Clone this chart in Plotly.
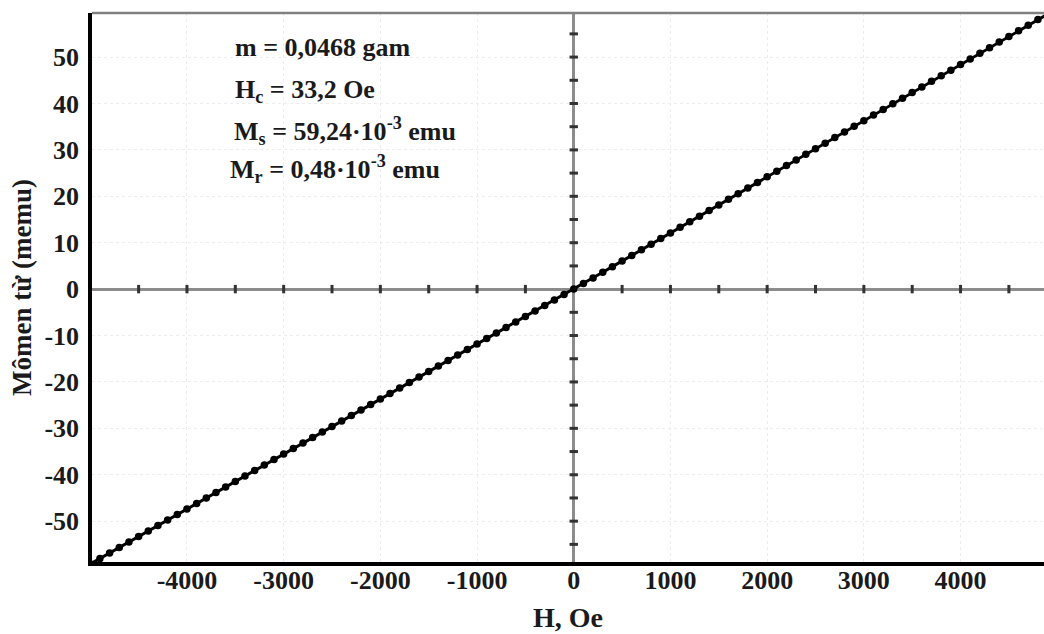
import plotly.graph_objects as go

# Field H (Oe) and magnetic moment M (memu)
H = [-5000, -4900, -4800, -4700, -4600, -4500, -4400, -4300, -4200, -4100,
     -4000, -3900, -3800, -3700, -3600, -3500, -3400, -3300, -3200, -3100,
     -3000, -2900, -2800, -2700, -2600, -2500, -2400, -2300, -2200, -2100,
     -2000, -1900, -1800, -1700, -1600, -1500, -1400, -1300, -1200, -1100,
     -1000, -900, -800, -700, -600, -500, -400, -300, -200, -100,
     0, 100, 200, 300, 400, 500, 600, 700, 800, 900,
     1000, 1100, 1200, 1300, 1400, 1500, 1600, 1700, 1800, 1900,
     2000, 2100, 2200, 2300, 2400, 2500, 2600, 2700, 2800, 2900,
     3000, 3100, 3200, 3300, 3400, 3500, 3600, 3700, 3800, 3900,
     4000, 4100, 4200, 4300, 4400, 4500, 4600, 4700, 4800, 4900]
M = [-59.24, -58.06, -56.87, -55.69, -54.50, -53.32, -52.13, -50.95, -49.76, -48.58,
     -47.39, -46.21, -45.02, -43.84, -42.65, -41.47, -40.28, -39.10, -37.91, -36.73,
     -35.54, -34.36, -33.17, -31.99, -30.80, -29.62, -28.44, -27.25, -26.07, -24.88,
     -23.70, -22.51, -21.33, -20.14, -18.96, -17.77, -16.59, -15.40, -14.22, -13.03,
     -11.85, -10.66, -9.48, -8.29, -7.11, -5.92, -4.74, -3.55, -2.37, -1.18,
     0.00, 1.21, 2.42, 3.63, 4.84, 6.05, 7.26, 8.47, 9.68, 10.89,
     12.10, 13.31, 14.52, 15.73, 16.94, 18.15, 19.36, 20.57, 21.78, 22.99,
     24.20, 25.41, 26.62, 27.83, 29.04, 30.25, 31.46, 32.67, 33.88, 35.09,
     36.30, 37.51, 38.72, 39.93, 41.14, 42.35, 43.56, 44.77, 45.98, 47.19,
     48.40, 49.61, 50.82, 52.03, 53.24, 54.45, 55.66, 56.87, 58.08, 59.24]

x_ticks = [-4000, -3000, -2000, -1000, 0, 1000, 2000, 3000, 4000]
y_ticks = [-50, -40, -30, -20, -10, 0, 10, 20, 30, 40, 50]
# small tick marks drawn on the zero lines
x_marks = [-4500, -4000, -3500, -3000, -2500, -2000, -1500, -1000, -500,
           500, 1000, 1500, 2000, 2500, 3000, 3500, 4000, 4500]
y_marks = [-55, -50, -45, -40, -35, -30, -25, -20, -15, -10, -5,
           5, 10, 15, 20, 25, 30, 35, 40, 45, 50, 55]

info_lines = [
    "m = 0,0468 gam",
    "H<sub>c</sub> = 33,2 Oe",
    "M<sub>s</sub> = 59,24·10<sup>-3</sup> emu",
    "M<sub>r</sub> = 0,48·10<sup>-3</sup> emu",
]

FONT = "Liberation Serif"
TXT = "#1a1a1a"

fig = go.Figure()

fig.add_trace(go.Scatter(
    x=x_marks, y=[0] * len(x_marks), mode="markers", hoverinfo="skip",
    marker=dict(symbol="line-ns", size=6, line=dict(width=3, color="#333333")),
    showlegend=False))
fig.add_trace(go.Scatter(
    x=[0] * len(y_marks), y=y_marks, mode="markers", hoverinfo="skip",
    marker=dict(symbol="line-ew", size=6, line=dict(width=3, color="#333333")),
    showlegend=False))

fig.add_trace(go.Scatter(
    x=H, y=M, mode="lines+markers",
    line=dict(color="black", width=3),
    marker=dict(color="black", size=7.5),
    showlegend=False))

ann_pos = [(-3525, 52.0), (-3525, 42.6), (-3535, 34.0), (-3580, 25.9)]
for text, (ax, ay) in zip(info_lines, ann_pos):
    fig.add_annotation(x=ax, y=ay, xref="x", yref="y", text=text, showarrow=False,
                       xanchor="left", yanchor="middle",
                       font=dict(family=FONT, size=26, color=TXT, weight="bold"))

fig.add_shape(type="line", xref="paper", yref="paper", x0=0, x1=1, y0=1, y1=1,
              line=dict(color="#808080", width=2.5))

fig.update_xaxes(
    range=[-4982, 4863], tickvals=x_ticks, ticktext=[str(v) for v in x_ticks],
    showline=True, linecolor="black", linewidth=3.5,
    zeroline=True, zerolinecolor="#8c8c8c", zerolinewidth=3,
    showgrid=True, gridcolor="#ededed", griddash="dot", gridwidth=1,
    ticks="", ticklabelstandoff=-8,
    tickfont=dict(family=FONT, size=26, color=TXT, weight="bold"),
    title=dict(text="H, Oe", font=dict(family=FONT, size=28, color=TXT, weight="bold"),
               standoff=14),
)
fig.update_yaxes(
    range=[-58.8, 59.5], tickvals=y_ticks, ticktext=[str(v) for v in y_ticks],
    showline=True, linecolor="black", linewidth=3.5,
    zeroline=True, zerolinecolor="#8c8c8c", zerolinewidth=3,
    showgrid=True, gridcolor="#ededed", griddash="dot", gridwidth=1,
    ticks="", ticklabelstandoff=4,
    tickfont=dict(family=FONT, size=26, color=TXT, weight="bold"),
    title=dict(text="Mômen từ (memu)", font=dict(family=FONT, size=27, color=TXT, weight="bold"),
               standoff=6),
)

fig.update_layout(
    width=1044, height=634,
    margin=dict(l=92, r=0, t=13, b=72),
    plot_bgcolor="white", paper_bgcolor="white",
    font=dict(family=FONT, color=TXT),
)

fig.write_html("out.html")
